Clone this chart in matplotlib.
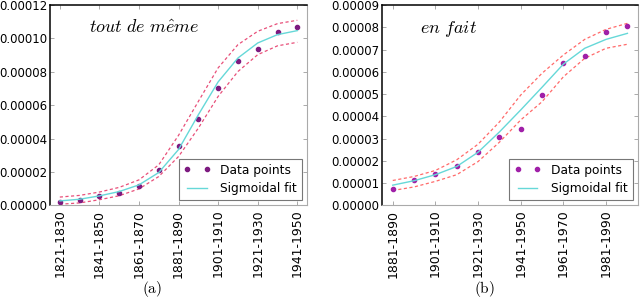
import matplotlib
matplotlib.use('Agg')
import matplotlib.pyplot as plt
from matplotlib.ticker import FormatStrFormatter

plt.rcParams['font.family'] = ['DejaVu Sans']
plt.rcParams['mathtext.fontset'] = 'cm'

# panel (a): tout de même
decades_a = ['1821-1830', '1831-1840', '1841-1850', '1851-1860', '1861-1870',
             '1871-1880', '1881-1890', '1891-1900', '1901-1910', '1911-1920',
             '1921-1930', '1931-1940', '1941-1950']
points_a = [2.3e-6, 3.1e-6, 5.5e-6, 7.3e-6, 1.17e-5, 2.11e-5, 3.54e-5,
            5.19e-5, 7.02e-5, 8.63e-5, 9.39e-5, 1.039e-4, 1.069e-4]
fit_a = [2.7e-6, 3.7e-6, 5.7e-6, 8.3e-6, 1.23e-5, 1.97e-5, 3.35e-5,
         5.43e-5, 7.4e-5, 8.83e-5, 9.73e-5, 1.023e-4, 1.047e-4]
upper_a = [5.0e-6, 6.0e-6, 8.0e-6, 1.08e-5, 1.53e-5, 2.43e-5, 4.2e-5,
           6.23e-5, 8.24e-5, 9.63e-5, 1.043e-4, 1.089e-4, 1.109e-4]
lower_a = [0.7e-6, 1.5e-6, 3.4e-6, 5.8e-6, 9.9e-6, 1.73e-5, 2.93e-5,
           4.63e-5, 6.53e-5, 8.02e-5, 9.03e-5, 9.56e-5, 9.77e-5]

# panel (b): en fait
decades_b = ['1881-1890', '1891-1900', '1901-1910', '1911-1920', '1921-1930',
             '1931-1940', '1941-1950', '1951-1960', '1961-1970', '1971-1980',
             '1981-1990', '1991-2000']
points_b = [7.4e-6, 1.14e-5, 1.39e-5, 1.77e-5, 2.42e-5, 3.06e-5, 3.45e-5,
            4.95e-5, 6.39e-5, 6.73e-5, 7.78e-5, 8.06e-5]
fit_b = [9.1e-6, 1.11e-5, 1.38e-5, 1.75e-5, 2.39e-5, 3.3e-5, 4.29e-5,
         5.31e-5, 6.35e-5, 7.06e-5, 7.46e-5, 7.73e-5]
upper_b = [1.12e-5, 1.3e-5, 1.57e-5, 2.05e-5, 2.75e-5, 3.75e-5, 4.96e-5,
           5.94e-5, 6.76e-5, 7.46e-5, 7.91e-5, 8.18e-5]
lower_b = [6.7e-6, 8.3e-6, 1.08e-5, 1.38e-5, 1.97e-5, 2.84e-5, 3.84e-5,
           4.66e-5, 5.78e-5, 6.61e-5, 7.06e-5, 7.24e-5]


def draw_panel(ax, decades, points, fit, upper, lower, ymax, ystep, word,
               dot_color, band_color):
    x = list(range(len(decades)))
    ax.plot(x, upper, '--', color=band_color, lw=0.9, dashes=(2.5, 2))
    ax.plot(x, lower, '--', color=band_color, lw=0.9, dashes=(2.5, 2))
    ax.plot(x, points, 'o', color=dot_color, ms=3, mec=dot_color,
            label='Data points')
    ax.plot(x, fit, '-', color='#66d8d8', lw=1.0, label='Sigmoidal fit')

    ax.set_xlim(-0.5, len(decades) - 0.5)
    ax.set_ylim(0, ymax)
    ax.set_xticks(x[::2])
    ax.set_xticklabels(decades[::2], rotation=90, fontsize=9)
    yt = [i * ystep for i in range(int(round(ymax / ystep)) + 1)]
    ax.set_yticks(yt)
    ax.yaxis.set_major_formatter(FormatStrFormatter('%.5f'))
    ax.tick_params(axis='y', labelsize=8.5, pad=2)
    ax.tick_params(direction='in', top=True, right=True, length=3,
                   width=0.5, color='#888888')
    ax.tick_params(axis='x', pad=3)

    for side in ['top', 'left']:
        ax.spines[side].set_color('black')
        ax.spines[side].set_linewidth(1.1)
    for side in ['bottom', 'right']:
        ax.spines[side].set_color('#aaaaaa')
        ax.spines[side].set_linewidth(0.8)

    ax.text(0.15, 0.86, word, transform=ax.transAxes, fontsize=13)

    leg = ax.legend(loc='lower right', numpoints=2, fontsize=8.8,
                    fancybox=False, framealpha=1, borderaxespad=0.45,
                    handlelength=2.2, labelspacing=0.45)
    leg.get_frame().set_edgecolor('#777777')
    leg.get_frame().set_linewidth(0.8)


fig = plt.figure(figsize=(6.4, 2.99), dpi=100)
ax1 = fig.add_axes([0.078, 0.313, 0.402, 0.67])
ax2 = fig.add_axes([0.597, 0.313, 0.400, 0.67])

draw_panel(ax1, decades_a, points_a, fit_a, upper_a, lower_a, 0.00012, 0.00002,
           r'$\mathit{tout\ de\ m\hat{e}me}$', '#7d1a80', '#e8507a')
draw_panel(ax2, decades_b, points_b, fit_b, upper_b, lower_b, 0.00009, 0.00001,
           r'$\mathit{en\ fait}$', '#a020a8', '#ff6a6a')

fig.text(0.238, 0.02, r'$\mathrm{(a)}$', ha='center', fontsize=11)
fig.text(0.757, 0.02, r'$\mathrm{(b)}$', ha='center', fontsize=11)

plt.savefig('out.png', dpi=100)
